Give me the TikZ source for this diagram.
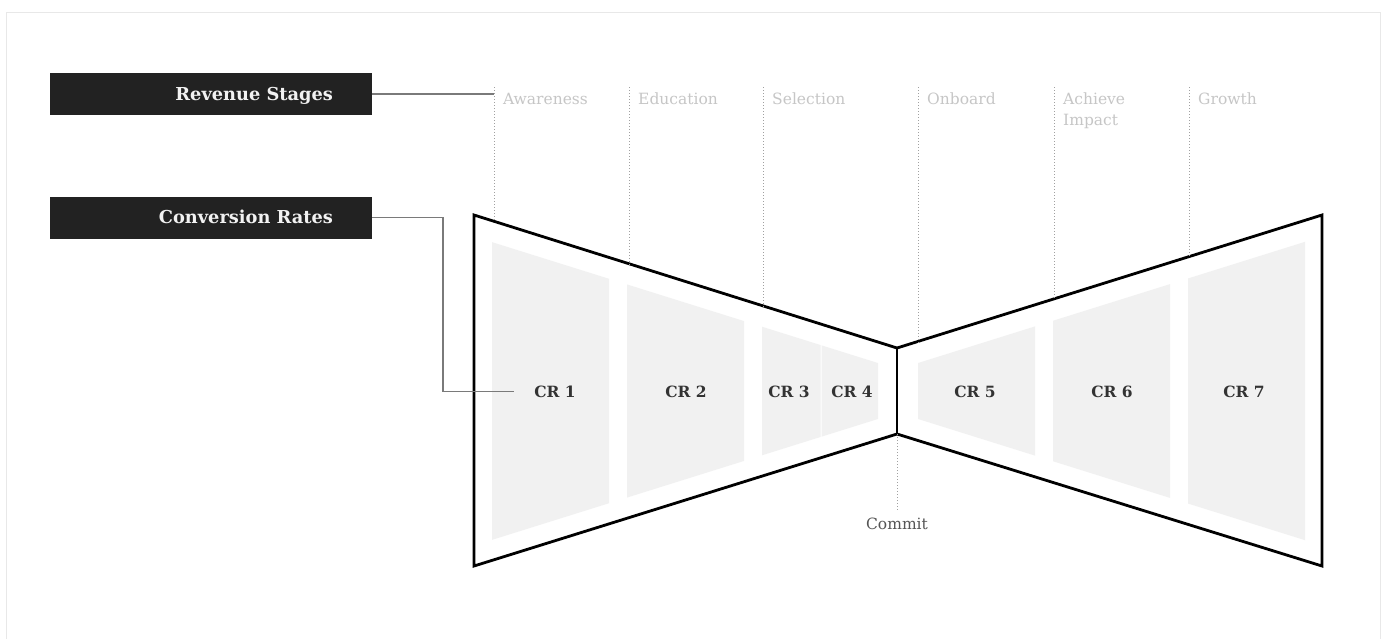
\documentclass[tikz,border=0pt]{standalone}
\usepackage{fontspec}
\setmainfont{DejaVu Serif}
\definecolor{panelgray}{HTML}{F1F1F1}
\definecolor{guidegray}{HTML}{A0A0A0}
\definecolor{conngray}{HTML}{7A7A7A}
\definecolor{boxblack}{HTML}{222222}
\definecolor{boxtext}{HTML}{F2F2F2}
\definecolor{stagegray}{HTML}{C6C6C6}
\definecolor{crtext}{HTML}{333333}
\definecolor{committext}{HTML}{555555}
\definecolor{framegray}{HTML}{E8E8E8}
\begin{document}
\begin{tikzpicture}[x=1pt,y=-1pt,
  outline/.style={draw=black, line width=2.8pt, line join=miter},
  panel/.style={fill=panelgray},
  guide/.style={draw=guidegray, line width=0.8pt, dash pattern=on 1pt off 2pt},
  conn/.style={draw=conngray, line width=1.1pt},
  blackbox/.style={fill=boxblack, minimum width=322pt, minimum height=42pt, inner sep=0pt},
  boxlabel/.style={text=boxtext, font=\bfseries\fontsize{17.8}{21}\selectfont, inner sep=0pt},
  stage/.style={text=stagegray, font=\fontsize{15.5}{21}\selectfont, anchor=north west, align=left, inner sep=0pt},
  crlabel/.style={text=crtext, font=\bfseries\fontsize{15.5}{18}\selectfont, inner sep=0pt},
  declare function={
    hl(\x)=154.5-0.31324*(\x-474);
    hr(\x)=154.5-0.31324*(1322-\x);
    ohl(\x)=175.5-0.31324*(\x-474);
    ohr(\x)=175.5-0.31324*(1322-\x);
  }]
\useasboundingbox (0,0) rectangle (1385,638);
\fill[white] (0,0) rectangle (1385,638);
\draw[framegray, line width=1pt] (6,12) rectangle (1380,660);

% shaded conversion panels, left funnel
\foreach \a/\b in {492/609, 627/744, 762/820.5, 821.5/878}{
  \fill[panel] (\a,{391-hl(\a)}) -- (\b,{391-hl(\b)}) -- (\b,{391+hl(\b)}) -- (\a,{391+hl(\a)}) -- cycle;
}
% shaded conversion panels, right funnel
\foreach \a/\b in {918/1035, 1053/1170, 1188/1305}{
  \fill[panel] (\a,{391-hr(\a)}) -- (\b,{391-hr(\b)}) -- (\b,{391+hr(\b)}) -- (\a,{391+hr(\a)}) -- cycle;
}

% bow-tie outline
\coordinate (neckT) at (897,348);
\coordinate (neckB) at (897,434);
\draw[outline] (474,215) -- (neckT) -- (1322,215) -- (1322,566) -- (neckB) -- (474,566) -- cycle;
\draw[outline] (neckT) -- (neckB);

% stage guides and labels
\foreach \gx/\gname/\gtxt/\side in {494/s1/Awareness/l, 629/s2/Education/l, 763/s3/Selection/l,
    918/s4/Onboard/r, 1054/s5/{Achieve\\\strut Impact}/r, 1189/s6/Growth/r}{
  \coordinate (\gname top) at (\gx,87);
  \if\side l
    \coordinate (\gname bot) at (\gx,{391-ohl(\gx)});
  \else
    \coordinate (\gname bot) at (\gx,{391-ohr(\gx)});
  \fi
  \draw[guide] (\gname top) -- (\gname bot);
  \node[stage] (\gname) at (\gx+9,90) {\strut\gtxt};
}

% commit marker
\node[text=committext, font=\fontsize{15.5}{18}\selectfont, inner sep=0pt] (commit) at (897,524) {Commit};
\draw[guide] (neckB) -- ([yshift=6pt]commit.north);

% conversion rate labels
\foreach \cx/\cn in {555/1, 686/2, 789/3, 852/4, 975/5, 1112/6, 1244/7}{
  \node[crlabel] (cr\cn) at (\cx,391.5) {CR \cn};
}

% legend boxes
\node[blackbox] (rev) at (211,94) {};
\node[boxlabel, anchor=base east] (revtxt) at ([xshift=-39pt,yshift=-6pt]rev.east) {Revenue Stages};
\node[blackbox] (conv) at (211,217.5) {};
\node[boxlabel, anchor=base east] (convtxt) at ([xshift=-39pt,yshift=-6pt]conv.east) {Conversion Rates};

% legend connectors
\draw[conn] (rev.east) -- (rev.east -| s1top);
\draw[conn] (conv.east) -- (443,217.5) |- ([xshift=-20pt]cr1.west);
\end{tikzpicture}
\end{document}
